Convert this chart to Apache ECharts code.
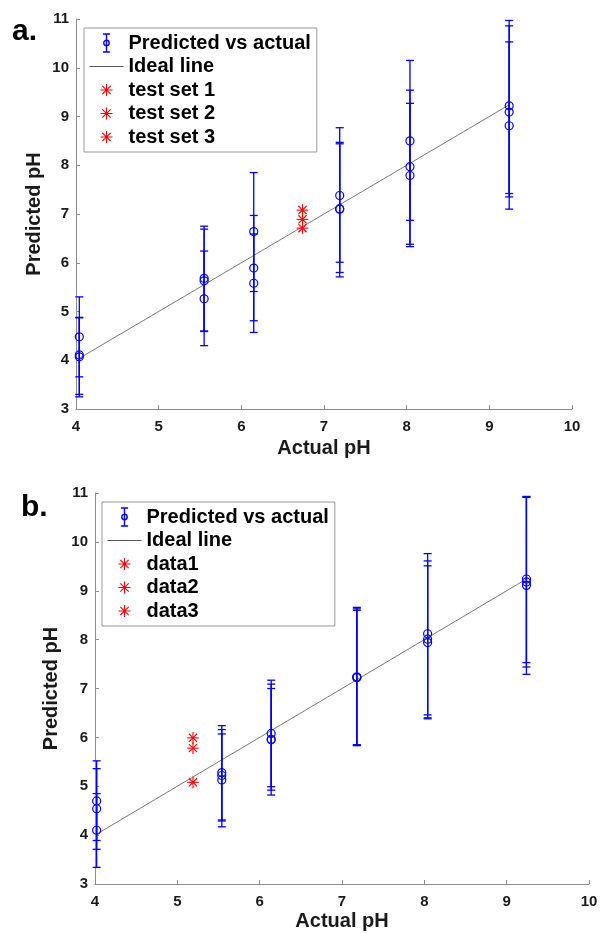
<!DOCTYPE html>
<html>
<head>
<meta charset="utf-8">
<script src="https://cdn.jsdelivr.net/npm/echarts@6/dist/echarts.min.js"></script>
<style>
html,body{margin:0;padding:0;background:#fff;}
#chart{width:601px;height:933px;}
</style>
</head>
<body>
<div id="chart"></div>
<script>
// ---------- Data: panel a ----------
const actualA = [4.04,4.04,4.04, 5.55,5.55,5.55, 6.15,6.15,6.15, 7.19,7.19,7.19, 8.04,8.04,8.04, 9.24,9.24,9.24];
const predA   = [4.48,4.11,4.07, 5.68,5.63,5.26, 6.64,5.89,5.58, 7.38,7.11,7.10, 8.50,7.97,7.79, 9.22,9.09,8.81];
const lowA    = [3.66,3.30,3.25, 4.60,4.59,4.30, 5.41,4.81,4.57, 6.01,5.80,5.71, 6.87,6.38,6.33, 7.42,7.35,7.10];
const highA   = [5.30,4.88,4.87, 6.75,6.69,6.24, 7.85,6.97,6.59, 8.77,8.47,8.44, 10.15,9.54,9.27, 10.97,10.86,10.53];
const idealA  = [4.04, 9.24];
const testXA  = [6.74, 6.74, 6.74];
const testYA  = [7.08, 6.89, 6.71];
const testNamesA = ['test set 1','test set 2','test set 3'];

// ---------- Data: panel b ----------
const actualB = [4.02,4.02,4.02, 5.54,5.54,5.54, 6.14,6.14,6.14, 7.18,7.18,7.18, 8.04,8.04,8.04, 9.24,9.24,9.24];
const predB   = [4.70,4.54,4.10, 5.28,5.22,5.13, 6.08,5.96,5.95, 7.24,7.23,7.22, 8.12,8.01,7.94, 9.24,9.18,9.11];
const lowB    = [3.89,3.71,3.34, 4.31,4.29,4.17, 4.99,4.82,4.92, 5.83,5.84,5.85, 6.46,6.40,6.38, 7.53,7.44,7.29];
const highB   = [5.52,5.36,4.85, 6.24,6.16,6.07, 7.17,7.09,7.00, 8.66,8.63,8.60, 9.76,9.61,9.51, 10.93,10.92,10.91];
const idealB  = [4.02, 9.24];
const testXB  = [5.19, 5.19, 5.19];
const testYB  = [5.99, 5.78, 5.08];
const testNamesB = ['data1','data2','data3'];

// ---------- Axis ticks ----------
const xMin = 4, xMax = 10, xStep = 1;
const yMin = 3, yMax = 11, yStep = 1;

const FONT = '"Liberation Sans", Arial, Helvetica, sans-serif';
const BLUE = '#0000ff';
const RED = '#ff0000';
const AXC = '#8c8c8c';
const LINEC = '#7a7a7a';

function ebRender(params, api) {
  const x = api.value(0), y = api.value(1), lo = api.value(2), hi = api.value(3);
  const c = api.coord([x, y]), l = api.coord([x, lo]), h = api.coord([x, hi]);
  const st = {stroke: BLUE, lineWidth: 1.3, fill: null};
  const cw = 4;
  return {type: 'group', children: [
    {type: 'line', shape: {x1: c[0], y1: l[1], x2: c[0], y2: h[1]}, style: st},
    {type: 'line', shape: {x1: c[0]-cw, y1: l[1], x2: c[0]+cw, y2: l[1]}, style: st},
    {type: 'line', shape: {x1: c[0]-cw, y1: h[1], x2: c[0]+cw, y2: h[1]}, style: st},
    {type: 'circle', shape: {cx: c[0], cy: c[1], r: 4}, style: {stroke: BLUE, lineWidth: 1.2, fill: null}}
  ]};
}
function starRender(params, api) {
  const c = api.coord([api.value(0), api.value(1)]);
  const r = 5.8, d = r * 0.707;
  const st = {stroke: RED, lineWidth: 1.1, fill: null};
  return {type: 'group', children: [
    {type: 'line', shape: {x1: c[0]-r, y1: c[1], x2: c[0]+r, y2: c[1]}, style: st},
    {type: 'line', shape: {x1: c[0], y1: c[1]-r, x2: c[0], y2: c[1]+r}, style: st},
    {type: 'line', shape: {x1: c[0]-d, y1: c[1]-d, x2: c[0]+d, y2: c[1]+d}, style: st},
    {type: 'line', shape: {x1: c[0]-d, y1: c[1]+d, x2: c[0]+d, y2: c[1]-d}, style: st}
  ]};
}
function idealRender(params, api) {
  const p0 = api.coord([api.value(0), api.value(0)]);
  const p1 = api.coord([api.value(1), api.value(1)]);
  return {type: 'line', shape: {x1: p0[0], y1: p0[1], x2: p1[0], y2: p1[1]},
          style: {stroke: LINEC, lineWidth: 1, fill: null}};
}

const ebIcon = 'path://M0,0L0,20M-4,0L4,0M-4,20L4,20M-3,10A3,3,0,1,1,3,10A3,3,0,1,1,-3,10';
const starIcon = 'path://M-9,-9M9,9M0,-6L0,6M-6,0L6,0M-4.2,-4.2L4.2,4.2M-4.2,4.2L4.2,-4.2';
const lineIcon = 'path://M0,-9M34,9M0,0L34,0';

function xAxisCfg(gi, gap) {
  return {
    gridIndex: gi, type: 'value', min: xMin, max: xMax, interval: xStep,
    name: 'Actual pH', nameLocation: 'middle', nameGap: gap, nameMoveOverlap: false,
    nameTextStyle: {fontSize: 20, fontWeight: 'bold', color: '#1a1a1a', fontFamily: FONT},
    axisLine: {show: true, lineStyle: {color: AXC, width: 1}},
    axisTick: {show: true, inside: true, length: 4, lineStyle: {color: AXC}},
    axisLabel: {fontSize: 15, fontWeight: 'bold', color: '#1a1a1a', fontFamily: FONT, margin: 10},
    splitLine: {show: false}
  };
}
function yAxisCfg(gi, gap) {
  return {
    gridIndex: gi, type: 'value', min: yMin, max: yMax, interval: yStep,
    name: 'Predicted pH', nameLocation: 'middle', nameGap: gap, nameMoveOverlap: false,
    nameTextStyle: {fontSize: 20, fontWeight: 'bold', color: '#1a1a1a', fontFamily: FONT},
    axisLine: {show: true, lineStyle: {color: AXC, width: 1}},
    axisTick: {show: true, inside: true, length: 4, lineStyle: {color: AXC}},
    axisLabel: {fontSize: 15, fontWeight: 'bold', color: '#1a1a1a', fontFamily: FONT, margin: 7},
    splitLine: {show: false}
  };
}

function buildSeries(gi, actual, pred, low, high, ideal, tx, ty, tnames) {
  const s = [];
  s.push({
    type: 'custom', name: 'Ideal line', xAxisIndex: gi, yAxisIndex: gi,
    renderItem: idealRender, itemStyle: {color: LINEC},
    encode: {x: [0, 1], y: [0, 1]},
    data: [ideal], z: 2
  });
  s.push({
    type: 'custom', name: 'Predicted vs actual', xAxisIndex: gi, yAxisIndex: gi,
    renderItem: ebRender, itemStyle: {color: BLUE},
    encode: {x: 0, y: [1, 2, 3]},
    data: actual.map((x, i) => [x, pred[i], low[i], high[i]]),
    z: 3
  });
  for (let k = 0; k < tx.length; k++) {
    s.push({
      type: 'custom', name: tnames[k], xAxisIndex: gi, yAxisIndex: gi,
      renderItem: starRender, itemStyle: {color: RED},
      encode: {x: 0, y: 1},
      data: [[tx[k], ty[k]]], z: 4
    });
  }
  return s;
}

function legendCfg(left, top, names) {
  const starItem = n => ({name: n, icon: starIcon, itemStyle: {color: 'rgba(0,0,0,0)', borderColor: RED, borderWidth: 1.1}});
  return {
    orient: 'vertical', left: left, top: top,
    backgroundColor: '#fff', borderColor: '#999', borderWidth: 1,
    padding: [5, 6, 5, 5], itemWidth: 34, itemHeight: 18, itemGap: 3.5,
    selectedMode: false,
    textStyle: {fontSize: 20, fontWeight: 'bold', color: '#000', fontFamily: FONT, lineHeight: 20},
    data: [
      {name: 'Predicted vs actual', icon: ebIcon, itemStyle: {color: 'rgba(0,0,0,0)', borderColor: BLUE, borderWidth: 1.4}},
      {name: 'Ideal line', icon: lineIcon, itemStyle: {color: 'rgba(0,0,0,0)', borderColor: '#555', borderWidth: 1}},
      starItem(names[0]), starItem(names[1]), starItem(names[2])
    ]
  };
}

const chart = echarts.init(document.getElementById('chart'), null, {renderer: 'canvas'});
chart.setOption({
  backgroundColor: '#fff',
  animation: false,
  grid: [
    {left: 76, top: 19, width: 496, height: 390},
    {left: 95, top: 493, width: 494, height: 391}
  ],
  xAxis: [xAxisCfg(0, 29), xAxisCfg(1, 27)],
  yAxis: [yAxisCfg(0, 32), yAxisCfg(1, 34)],
  legend: [legendCfg(84, 28, testNamesA), legendCfg(102, 502, testNamesB)],
  graphic: [
    {type: 'text', left: 12, top: 17, style: {text: 'a.', font: 'bold 30px ' + FONT, fill: '#000'}},
    {type: 'text', left: 21, top: 493, style: {text: 'b.', font: 'bold 30px ' + FONT, fill: '#000'}}
  ],
  series: buildSeries(0, actualA, predA, lowA, highA, idealA, testXA, testYA, testNamesA)
    .concat(buildSeries(1, actualB, predB, lowB, highB, idealB, testXB, testYB, testNamesB))
});
</script>
</body>
</html>
